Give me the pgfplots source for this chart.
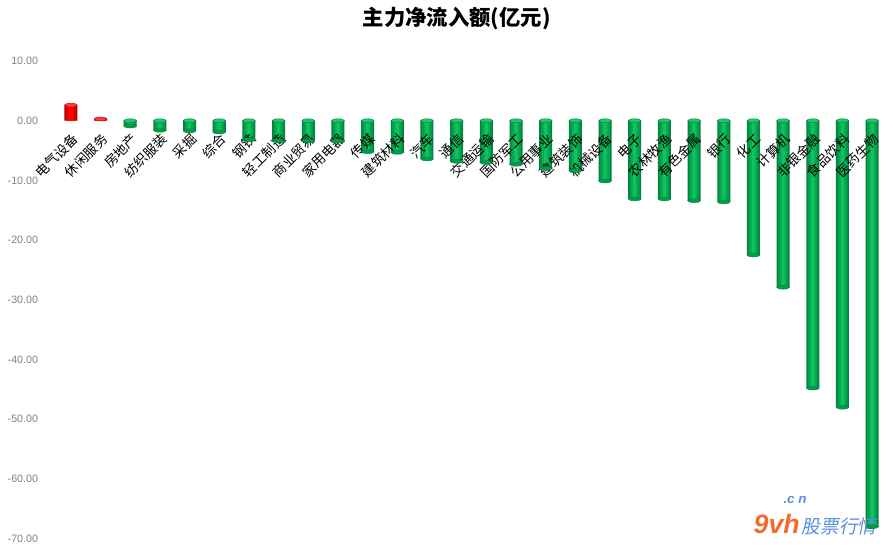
\documentclass[border=0pt]{standalone}
\usepackage{pgfplots}
\usepackage{pgfplotstable}
\pgfplotsset{compat=1.18}
\usepackage{fontspec}
\setmainfont{Liberation Sans}
\newfontfamily\cjk{Noto Sans CJK SC}
\newfontfamily\cjkslant[FakeSlant=0.2]{Noto Sans CJK SC}
\definecolor{grnd}{HTML}{0A7F40}
\definecolor{grnm}{HTML}{009E4A}
\definecolor{grn}{HTML}{00B050}
\definecolor{grnl}{HTML}{20C46A}
\definecolor{rdd}{HTML}{B00000}
\definecolor{rdm}{HTML}{E00000}
\definecolor{rd}{HTML}{FF0000}
\definecolor{rdl}{HTML}{FF3838}
\definecolor{tickgray}{HTML}{808080}
\definecolor{wmorange}{HTML}{F26A2E}
\definecolor{wmblue}{HTML}{5B8EE0}

% net outflow by sector (index, value)
\pgfplotstableread{
x y
2 -0.9
3 -1.6
4 -1.7
5 -1.9
6 -3.2
7 -3.4
8 -3.4
9 -3.4
10 -5.2
11 -5.3
12 -6.4
13 -6.8
14 -7.0
15 -7.3
16 -8.0
17 -8.4
18 -10.1
19 -13.1
20 -13.1
21 -13.4
22 -13.6
23 -22.5
24 -27.9
25 -44.8
26 -48.0
27 -68.0
}\outflow
% net inflow
\pgfplotstableread{
x y
0 2.6
1 0.3
}\inflow

\begin{document}
\begin{tikzpicture}
\begin{axis}[
  name=ax,
  scale only axis,
  width=623pt, height=358pt,
  xmin=-0.5, xmax=27.5,
  ymin=-70, ymax=10,
  enlargelimits=false,
  axis on top,
  axis x line*=middle,
  axis y line*=left,
  axis line style={draw=none},
  major tick length=0pt,
  ytick={-70,-60,...,10},
  yticklabel style={
    /pgf/number format/fixed,
    /pgf/number format/fixed zerofill,
    /pgf/number format/precision=2,
    /pgf/number format/assume math mode=true,
    font=\fontsize{8}{9}\selectfont, text=tickgray, xshift=-10pt},
  xtick={0,...,27},
  xticklabels={电气设备,休闲服务,房地产,纺织服装,采掘,综合,钢铁,轻工制造,商业贸易,家用电器,
    传媒,建筑材料,汽车,通信,交通运输,国防军工,公用事业,建筑装饰,机械设备,电子,
    农林牧渔,有色金属,银行,化工,计算机,非银金融,食品饮料,医药生物},
  xticklabel style={font=\cjk\fontsize{10}{10}\selectfont, rotate=45, anchor=east,
    inner sep=1pt, yshift=-11pt, xshift=-5pt},
  title={\cjk\bfseries 主力净流入额(亿元)},
  title style={font=\fontsize{16}{18}\selectfont, yshift=14pt, xshift=-11pt},
  clip=false,
  every axis plot/.append style={bar shift=0pt},
]
% green cylinders: dark rim, lighter core
\addplot[ybar, bar width=9.75pt, draw=none, fill=grnd] table {\outflow};
\addplot[ybar, bar width=7.6pt, draw=none, fill=grnm] table {\outflow};
\addplot[ybar, bar width=5.2pt, draw=none, fill=grn] table {\outflow};
\addplot[ybar, bar width=2.4pt, draw=none, fill=grnl!70!grn] table {\outflow};
\addplot[only marks, mark=*, mark size=4.875pt,
  mark options={yscale=0.3, fill=grnm, draw=grnd, line width=0.3pt}] table {\outflow};
\addplot[only marks, mark=*, mark size=4.875pt,
  mark options={yscale=0.3, fill=grnl, draw=grnd, line width=0.3pt}]
  table[y expr=0] {\outflow};
% red cylinders
\addplot[ybar, bar width=9.75pt, draw=none, fill=rdd] table {\inflow};
\addplot[ybar, bar width=7.6pt, draw=none, fill=rdm] table {\inflow};
\addplot[ybar, bar width=4.4pt, draw=none, fill=rd] table {\inflow};
\addplot[only marks, mark=*, mark size=4.875pt,
  mark options={yscale=0.3, fill=rdl, draw=rdd, line width=0.3pt}] table {\inflow};
\node[anchor=west, inner sep=0pt] at (axis cs:23.0,-67.6)
  {{\color{wmorange}\bfseries\itshape\fontsize{20}{20}\selectfont 9vh}\,{\cjkslant\color{wmblue}\fontsize{14}{14}\selectfont 股票行情}};
\node[inner sep=0pt, text=wmblue] at (axis cs:24.4,-63.6) {\bfseries\itshape\fontsize{10}{10}\selectfont .c n};
\end{axis}
\pgfresetboundingbox
\path ([xshift=-42pt, yshift=-9.75pt]ax.south west) rectangle ([xshift=4.5pt, yshift=45.75pt]ax.north east);
\end{tikzpicture}
\end{document}
